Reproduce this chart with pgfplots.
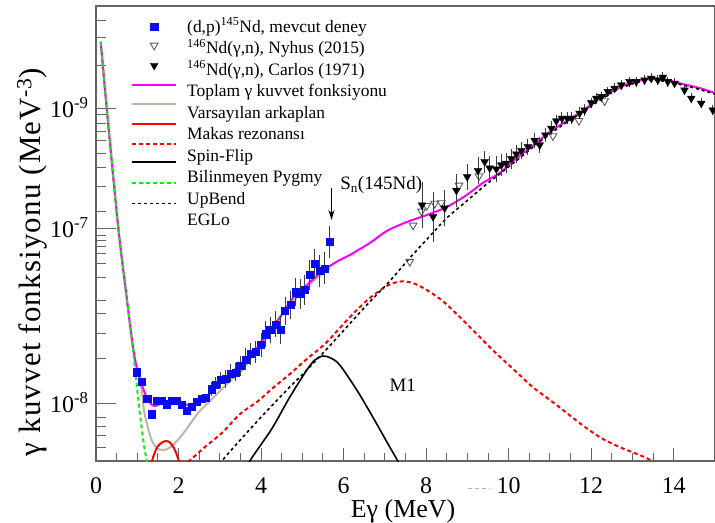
\documentclass[border=0pt]{standalone}
\usepackage{fontspec}
\setmainfont{Liberation Serif}
\usepackage{pgfplots}
\pgfplotsset{compat=1.18}
\usetikzlibrary{arrows.meta}
\definecolor{cblue}{RGB}{10,10,240}
\definecolor{cmag}{RGB}{250,0,250}
\definecolor{cgray}{RGB}{190,180,170}
\definecolor{cred}{RGB}{255,0,0}
\definecolor{cgreen}{RGB}{20,235,20}
\definecolor{cerr}{RGB}{60,60,60}
\definecolor{cnyh}{RGB}{90,90,90}
\definecolor{caxis}{RGB}{100,100,100}
\pgfplotsset{
 legline/.style={legend image code/.code={\path[draw=none,fill=none] (0bp,0bp) -- (44bp,0bp); \draw[##1,overlay] (0bp,#1) -- (44bp,#1);}},
 legmark/.style={legend image code/.code={\path[draw=none,fill=none] (0bp,0bp) -- (44bp,0bp); \draw[##1,overlay] plot coordinates {(22bp,#1)};}},
}
\begin{document}
\begin{tikzpicture}
\begin{axis}[
 at={(0,0)}, anchor=south west,
 scale only axis, width=619bp, height=455bp,
 xmin=0, xmax=15, ymode=log, ymin=4.045e-9, ymax=4.914e-6,
 clip mode=individual,
 axis line style={caxis, line width=1.2bp},
 tick align=inside, tick pos=left,
 major tick length=13bp, minor tick length=8bp,
 xtick style={caxis, line width=1bp},
 ytick style={caxis, line width=1bp, /pgfplots/major tick length=20bp, /pgfplots/minor tick length=10bp},
 xtick={0,2,...,14}, xticklabels={0,2,4,6,8,10,12,14},
 minor x tick num=3,
 ytick={1e-8,1.536e-7,1e-6},
 yticklabels={10\textsuperscript{-8},10\textsuperscript{-7},10\textsuperscript{-9}},
 minor ytick={3.95e-6,2.983e-6,1.956e-6,8.966e-7,7.912e-7,6.877e-7,5.975e-7,4.954e-7,3.981e-7,2.959e-7,2.003e-7,1.377e-7,1.274e-7,1.160e-7,1.024e-7,8.895e-8,7.149e-8,4.992e-8,4.076e-8,2.983e-8,2.019e-8,8.04e-9,6.98e-9,6.07e-9,5.03e-9},
 ticklabel style={font=\fontsize{24}{24}\selectfont},
 xticklabel style={yshift=-13bp},
 yticklabel style={xshift=-4bp},
 xlabel={Eγ (MeV)}, ylabel={γ kuvvet fonksiyonu (MeV\textsuperscript{-3})},
 xlabel style={font=\fontsize{26}{26}\selectfont, at={(axis description cs:0.496,-0.1100)}, anchor=center},
 ylabel style={font=\fontsize{31}{31}\selectfont\addfontfeature{LetterSpace=4}, at={(axis description cs:-0.1034,0.437)}, anchor=center},
 legend style={draw=none, fill=none, inner sep=0pt, at={(axis description cs:0.0582,0.9692)}, anchor=north west, row sep=5.5bp, column sep=11bp, font=\fontsize{17.5}{20}\selectfont, nodes={inner sep=0pt, text height=12bp, text depth=4bp}},
 legend cell align=left,
]
% Varsayilan arkaplan (gray)
\addplot[forget plot, cgray, line width=2bp, smooth, tension=0.5] coordinates {(0.114,2.815e-6) (0.259,1e-6) (0.540,1.536e-7) (0.751,4.992e-8) (0.872,2.674e-8) (0.993,1.727e-8) (1.107,1.225e-8) (1.162,8.97e-9) (1.235,7.21e-9) (1.349,5.61e-9) (1.477,4.95e-9) (1.622,4.80e-9) (1.768,4.95e-9) (1.985,5.61e-9) (2.228,6.87e-9) (2.470,8.55e-9) (2.712,1.0e-8) (2.954,1.169e-8) (3.196,1.367e-8) (3.528,1.648e-8) (3.729,1.957e-8) (4.044,2.632e-8) (4.528,4.012e-8) (5.109,6.114e-8) (5.666,8.230e-8)};
% Toplam (magenta)
\addplot[forget plot, cmag, line width=2bp, smooth, tension=0.5] coordinates {(0.114,2.815e-6) (0.259,1.0e-6) (0.540,1.536e-7) (0.751,4.992e-8) (0.872,2.674e-8) (0.956,1.897e-8) (1.041,1.524e-8) (1.138,1.264e-8) (1.235,1.081e-8) (1.332,9.84e-9) (1.429,9.54e-9) (1.550,9.84e-9) (1.695,1.016e-8) (1.840,1.040e-8) (1.985,1.032e-8) (2.131,9.84e-9) (2.276,9.69e-9) (2.421,1.0e-8) (2.567,1.064e-8) (2.712,1.133e-8) (2.857,1.225e-8) (3.002,1.345e-8) (3.196,1.524e-8) (3.487,1.810e-8) (3.801,2.183e-8) (4.044,2.674e-8) (4.286,3.276e-8) (4.528,4.076e-8) (4.770,5.151e-8) (5.109,6.310e-8) (5.424,7.610e-8) (5.666,8.489e-8) (5.908,9.322e-8) (6.150,1.008e-7) (6.634,1.215e-7) (7.046,1.466e-7) (7.530,1.687e-7) (8.015,1.882e-7) (8.499,2.132e-7) (8.983,2.572e-7) (9.370,3.101e-7) (9.782,3.626e-7) (10.194,4.581e-7) (10.581,5.526e-7) (10.993,6.877e-7) (11.404,8.167e-7) (11.792,9.544e-7) (12.203,1.169e-6) (12.615,1.345e-6) (13.002,1.501e-6) (13.414,1.573e-6) (13.729,1.573e-6) (14.213,1.455e-6) (14.625,1.366e-6) (15.0,1.264e-6)};
% Makas rezonansi (red solid)
\addplot[forget plot, cred, line width=2bp, smooth] coordinates {(1.308,3.51e-9) (1.356,4.045e-9) (1.429,4.65e-9) (1.501,5.11e-9) (1.598,5.40e-9) (1.695,5.53e-9) (1.792,5.40e-9) (1.889,4.95e-9) (1.961,4.44e-9) (2.010,4.045e-9) (2.058,3.51e-9)};
% Spin-Flip (red dashed)
\addplot[forget plot, cred, line width=2bp, dash pattern=on 4bp off 3bp, smooth] coordinates {(2.228,3.98e-9) (2.639,5.03e-9) (3.075,6.36e-9) (3.487,8.42e-9) (3.898,1.016e-8) (4.286,1.264e-8) (4.697,1.573e-8) (5.109,1.988e-8) (5.545,2.512e-8) (5.908,3.225e-8) (6.271,4.140e-8) (6.634,5.151e-8) (7.046,6.212e-8) (7.361,6.663e-8) (7.676,6.510e-8) (8.015,5.835e-8) (8.402,4.914e-8) (8.814,3.830e-8) (9.298,2.803e-8) (9.613,2.287e-8) (9.952,1.867e-8) (10.266,1.548e-8) (10.581,1.284e-8) (11.162,9.69e-9) (11.719,7.32e-9) (12.203,5.88e-9) (12.688,5.03e-9) (13.341,4.24e-9) (13.656,3.74e-9)};
% Bilinmeyen Pygmy (black solid)
\addplot[forget plot, black, line width=1.6bp, smooth] coordinates {(3.656,3.51e-9) (3.729,4.045e-9) (4.007,5.27e-9) (4.286,6.87e-9) (4.697,1.098e-8) (5.109,1.674e-8) (5.303,1.957e-8) (5.496,2.083e-8) (5.690,2.019e-8) (5.908,1.810e-8) (6.320,1.225e-8) (6.707,8.04e-9) (7.119,5.03e-9) (7.312,4.045e-9) (7.385,3.51e-9)};
% EGLo (black dashed)
\addplot[forget plot, black, line width=1.6bp, dash pattern=on 3bp off 3bp, smooth] coordinates {(2.954,3.51e-9) (3.051,4.045e-9) (3.559,5.88e-9) (4.092,8.55e-9) (4.625,1.225e-8) (5.109,1.674e-8) (5.593,2.323e-8) (6.077,3.276e-8) (6.562,4.617e-8) (7.119,6.715e-8) (7.603,9.618e-8) (8.160,1.421e-7) (8.499,1.796e-7) (8.983,2.342e-7) (9.467,3.053e-7) (9.782,3.569e-7) (10.266,4.581e-7) (10.993,6.664e-7) (11.792,9.396e-7) (12.615,1.324e-6) (13.414,1.548e-6) (14.213,1.432e-6) (15.0,1.244e-6)};
% UpBend (green dashed)
\addplot[forget plot, cgreen, line width=2bp, dash pattern=on 4bp off 3bp] coordinates {(0.114,2.815e-6) (0.259,1.0e-6) (0.540,1.536e-7) (0.751,4.992e-8) (0.872,2.674e-8) (0.969,1.477e-8) (1.065,8.29e-9) (1.162,5.19e-9) (1.247,3.74e-9)};
% (d,p) data without visible errors
\addplot[forget plot, only marks, mark=square*, mark size=3.6bp, cblue] table[row sep=\\] {
x y\\
0.985 1.62e-8\\ 1.107 1.40e-8\\ 1.242 1.064e-8\\ 1.356 8.40e-9\\ 1.470 1.032e-8\\ 1.591 1.032e-8\\ 1.712 9.81e-9\\ 1.833 1.043e-8\\ 1.954 1.043e-8\\ 2.075 9.77e-9\\ 2.196 8.89e-9\\ 2.317 9.44e-9\\ 2.438 1.016e-8\\ 2.559 1.076e-8\\ 2.663 1.090e-8\\
};
% (d,p) data with errors
\addplot[forget plot, only marks, mark=square*, mark size=3.6bp, cblue,
 error bars/.cd, y dir=both, y explicit relative,
 error bar style={cerr, line width=0.9bp}, error mark options={cerr, line width=0.9bp, mark size=3bp}]
 table[row sep=\\, x=E, y=v, y error plus=ep, y error minus=em] {
E v ep em\\
2.801 1.240e-8 0.0644 0.0605\\
2.906 1.331e-8 0.0811 0.0750\\
3.019 1.439e-8 0.0811 0.0750\\
3.136 1.466e-8 0.0981 0.0893\\
3.257 1.590e-8 0.0981 0.0893\\
3.378 1.615e-8 0.0981 0.0893\\
3.494 1.796e-8 0.1155 0.1035\\
3.625 1.978e-8 0.133 0.1174\\
3.746 2.149e-8 0.133 0.1174\\
3.862 2.227e-8 0.133 0.1174\\
4.000 2.492e-8 0.151 0.1311\\
4.109 2.927e-8 0.1693 0.1446\\
4.220 3.126e-8 0.1693 0.1446\\
4.351 3.417e-8 0.1693 0.1446\\
4.472 3.126e-8 0.1875 0.158\\
4.581 4.225e-8 0.1875 0.158\\
4.709 4.617e-8 0.1875 0.158\\
4.831 5.638e-8 0.1875 0.158\\
4.947 5.483e-8 0.206 0.171\\
5.061 5.835e-8 0.206 0.171\\
5.174 7.375e-8 0.206 0.171\\
5.303 8.758e-8 0.206 0.171\\
5.424 7.913e-8 0.225 0.184\\
5.545 8.189e-8 0.225 0.184\\
5.659 1.235e-7 0.225 0.184\\
};
% Nyhus (2015)
\addplot[forget plot, only marks, mark=triangle, mark size=4.5bp, mark options={rotate=180, cnyh, line width=0.9bp}] table[row sep=\\] {
x y\\
7.603 9.08e-8\\ 7.683 1.602e-7\\ 7.886 1.994e-7\\ 8.015 2.176e-7\\ 8.208 2.252e-7\\ 8.366 2.270e-7\\ 8.797 2.992e-7\\ 9.281 3.459e-7\\ 11.073 6.457e-7\\ 11.702 8.20e-7\\ 12.324 1.116e-6\\
};
% Carlos (1971)
\addplot[forget plot, only marks, mark=triangle*, mark size=4.5bp, mark options={rotate=180}, black,
 error bars/.cd, y dir=both, y explicit relative,
 error bar style={cerr, line width=0.9bp}, error mark options={cerr, line width=0.9bp, mark size=3bp}]
 table[row sep=\\, x=E, y=v, y error plus=ep, y error minus=em] {
E v ep em\\
7.901 2.200e-7 0.367 0.268\\
8.167 1.833e-7 0.410 0.291\\
8.450 2.099e-7 0.264 0.209\\
8.734 2.759e-7 0.225 0.184\\
8.995 3.422e-7 0.1693 0.1446\\
9.257 3.770e-7 0.1693 0.1446\\
9.419 4.325e-7 0.133 0.1174\\
9.540 3.920e-7 0.151 0.1311\\
9.702 3.859e-7 0.1693 0.1446\\
9.823 4.108e-7 0.133 0.1174\\
9.939 4.218e-7 0.1155 0.1035\\
10.065 4.532e-7 0.1155 0.1035\\
10.186 4.877e-7 0.0981 0.0893\\
10.308 5.151e-7 0.0981 0.0893\\
10.467 5.465e-7 0.0811 0.075\\
10.630 6.022e-7 0.0811 0.075\\
10.751 5.613e-7 0.0811 0.075\\
10.889 6.561e-7 0.0644 0.0605\\
11.034 7.285e-7 0.0644 0.0605\\
11.155 8.167e-7 0.048 0.0458\\
11.291 8.518e-7 0.048 0.0458\\
11.421 8.518e-7 0.048 0.0458\\
11.533 8.518e-7 0.048 0.0458\\
11.719 9.208e-7 0.048 0.0458\\
11.840 9.692e-7 0.048 0.0458\\
12.002 1.086e-6 0.0317 0.0307\\
12.123 1.164e-6 0.0317 0.0307\\
12.245 1.193e-6 0.0317 0.0307\\
12.404 1.290e-6 0.0317 0.0307\\
12.567 1.360e-6 0.0317 0.0307\\
12.729 1.432e-6 0.0317 0.0307\\
12.930 1.508e-6 0.0317 0.0307\\
13.092 1.508e-6 0.0317 0.0307\\
13.293 1.548e-6 0.0317 0.0307\\
13.455 1.590e-6 0.0317 0.0307\\
13.615 1.548e-6 0.0317 0.0307\\
13.736 1.615e-6 0.0317 0.0307\\
13.857 1.508e-6 0.0317 0.0307\\
14.019 1.471e-6 0.0317 0.0307\\
14.262 1.324e-6 0.0317 0.0307\\
14.424 1.164e-6 0.0317 0.0307\\
14.666 1.076e-6 0.0317 0.0307\\
14.947 9.692e-7 0.0317 0.0307\\
};
% legend
\addlegendimage{cblue, mark=square*, mark size=3.6bp, legmark=1.6bp}
\addlegendentry{(d,p)\textsuperscript{145}Nd, mevcut deney}
\addlegendimage{cnyh, mark=triangle, mark size=4.5bp, mark options={rotate=180, line width=0.9bp}, legmark=4.3bp}
\addlegendentry{\textsuperscript{146}Nd(γ,n), Nyhus (2015)}
\addlegendimage{black, mark=triangle*, mark size=4.5bp, mark options={rotate=180}, legmark=5.7bp}
\addlegendentry{\textsuperscript{146}Nd(γ,n), Carlos (1971)}
\addlegendimage{cmag, line width=2bp, legline=7.7bp}
\addlegendentry{Toplam γ kuvvet fonksiyonu}
\addlegendimage{cgray, line width=2bp, legline=10bp}
\addlegendentry{Varsayılan arkaplan}
\addlegendimage{cred, line width=2bp, legline=11.7bp}
\addlegendentry{Makas rezonansı}
\addlegendimage{cred, line width=2bp, dash pattern=on 4bp off 3bp, legline=13.3bp}
\addlegendentry{Spin-Flip}
\addlegendimage{black, line width=1.6bp, legline=16.7bp}
\addlegendentry{Bilinmeyen Pygmy}
\addlegendimage{cgreen, line width=2bp, dash pattern=on 4bp off 3bp, legline=17.7bp}
\addlegendentry{UpBend}
\addlegendimage{black, line width=1.6bp, dash pattern=on 3bp off 3bp, legline=18.4bp}
\addlegendentry{EGLo}
% annotations
\draw[-{Stealth[length=10bp,width=6bp]}, line width=1.3bp] (axis cs:5.707,2.868e-7) -- (axis cs:5.707,1.741e-7);
\node[anchor=west, font=\fontsize{19}{19}\selectfont] at (axis cs:5.835,3.006e-7) {S\textsubscript{n}(145Nd)};
\node[font=\fontsize{19}{19}\selectfont] at (axis cs:7.433,1.324e-8) {M1};
\draw[gray!60, line width=1bp, dash pattern=on 4bp off 3bp] (rel axis cs:0.601,-0.0615) -- (rel axis cs:0.6365,-0.0615);
\end{axis}
\pgfresetboundingbox
\path[use as bounding box] (-96bp,-62bp) rectangle (619bp,461bp);
\end{tikzpicture}
\end{document}
